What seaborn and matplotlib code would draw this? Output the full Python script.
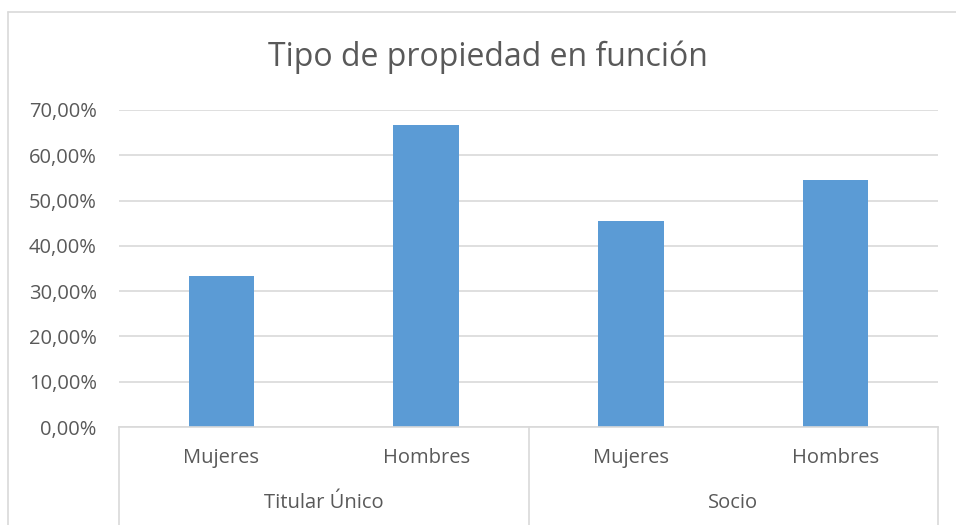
import matplotlib
matplotlib.use("Agg")
import matplotlib.pyplot as plt
import seaborn as sns
import pandas as pd
from matplotlib.lines import Line2D
from matplotlib.ticker import FuncFormatter

# Data
groups = ["Titular Único", "Titular Único", "Socio", "Socio"]
subcats = ["Mujeres", "Hombres", "Mujeres", "Hombres"]
values = [0.3333, 0.6667, 0.4545, 0.5455]
title = "Tipo de propiedad en función"

df = pd.DataFrame({"key": [f"{g}|{s}" for g, s in zip(groups, subcats)],
                   "group": groups, "sub": subcats, "value": values})

sns.set_theme(style="white")
plt.rcParams["font.family"] = ["Open Sans", "DejaVu Sans"]
TXT = "#595959"
GRID = "#D9D9D9"

W, H = 956, 525
fig = plt.figure(figsize=(W / 100, H / 100), dpi=100)
L, R, T, B = 119, 938, 110, 427
ax = fig.add_axes([L / W, 1 - B / H, (R - L) / W, (B - T) / H])

sns.barplot(data=df, x="key", y="value", order=list(df["key"]), color="#5B9BD5",
            width=0.32, saturation=1, ax=ax, errorbar=None)
for p in ax.patches:
    p.set_edgecolor("none")

ax.set_ylim(0, 0.7)
ax.set_xlim(-0.5, 3.5)
ax.set_yticks([i / 10 for i in range(8)])
ax.yaxis.set_major_formatter(FuncFormatter(lambda v, _: f"{v*100:.2f}%".replace(".", ",")))
ax.tick_params(axis="y", labelsize=14.5, labelcolor=TXT, length=0, pad=16)
ax.set_xticks([])
ax.set_xlabel("")
ax.set_ylabel("")
ax.grid(axis="y", color=GRID, linewidth=1.2)
ax.set_axisbelow(True)
for s in ["top", "right", "left"]:
    ax.spines[s].set_visible(False)
ax.spines["bottom"].set_color(GRID)
ax.spines["bottom"].set_linewidth(1.2)

def fx(px):
    return px / W
def fy(py):
    return 1 - py / H

# Multi-level category axis
bt = matplotlib.transforms.blended_transform_factory(ax.transData, fig.transFigure)
xpos = list(range(len(values)))
for x, s in zip(xpos, subcats):
    ax.text(x, fy(458), s, transform=bt, ha="center", va="center", fontsize=14.5, color=TXT)
uniq = []
for g in groups:
    if g not in uniq:
        uniq.append(g)
for g in uniq:
    xs = [x for x, gg in zip(xpos, groups) if gg == g]
    ax.text(sum(xs) / len(xs), fy(503), g, transform=bt,
            ha="center", va="center", fontsize=14.5, color=TXT)

for xb in [-0.5, 1.5, 3.5]:
    fig.add_artist(Line2D([xb, xb], [fy(B), 0], transform=bt, color=GRID, linewidth=1.2))

# Outer chart border (left and top)
fig.add_artist(Line2D([fx(7.5), fx(7.5)], [0, fy(11.5)], color="#D9D9D9", linewidth=1.2))
fig.add_artist(Line2D([fx(7.5), 1], [fy(11.5), fy(11.5)], color="#D9D9D9", linewidth=1.2))

fig.text(0.5 * (fx(265) + fx(710)), fy(57), title, ha="center", va="center",
         fontsize=23, color=TXT)

fig.savefig("out.png", dpi=100)
